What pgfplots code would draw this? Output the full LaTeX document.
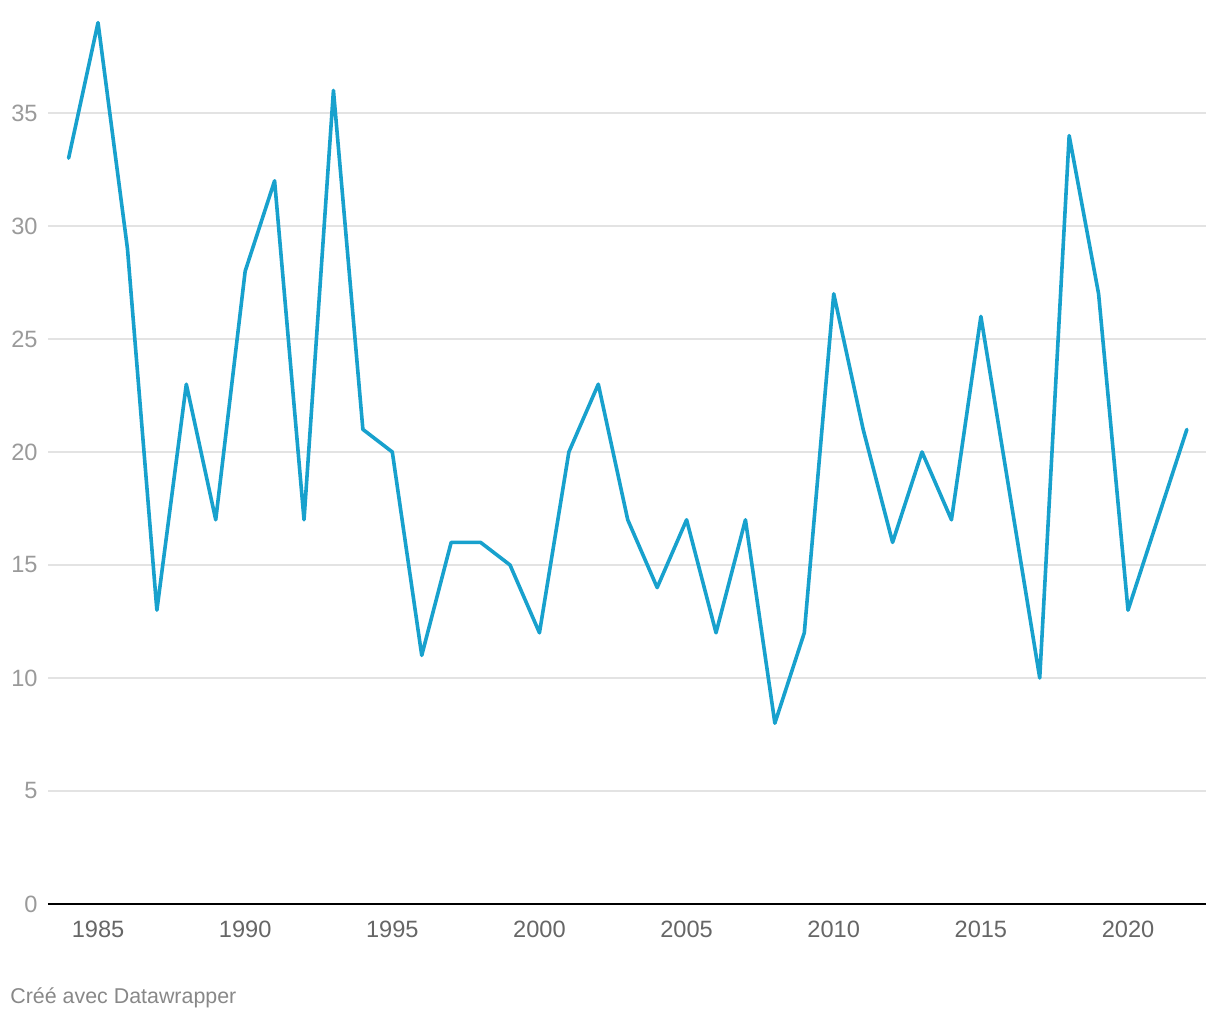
\documentclass[border=0pt]{standalone}
\usepackage{pgfplots}
\pgfplotsset{compat=1.18}
\usepackage{fontspec}
\setmainfont{Liberation Sans}
\definecolor{linecol}{HTML}{18A1CD}
\definecolor{gridcol}{HTML}{E3E3E3}
\definecolor{ylab}{HTML}{9A9A9A}
\definecolor{xlab}{HTML}{666666}
\definecolor{credit}{HTML}{888888}
\begin{document}
\begin{tikzpicture}
\path[use as bounding box] (-24pt,-58pt) rectangle (586pt,452pt);
\begin{axis}[
  at={(0,0)}, anchor=south west,
  scale only axis=true,
  width=579pt, height=452pt,
  xmin=1983.3, xmax=2022.65,
  ymin=0, ymax=40,
  clip=false,
  axis line style={draw=none},
  major tick length=0pt,
  xtick={1985,1990,...,2020},
  ytick={0,5,...,35},
  ymajorgrids=true,
  major grid style={gridcol, line width=0.65pt},
  /pgf/number format/assume math mode=true,
  /pgf/number format/1000 sep={},
  ticklabel style={font=\fontsize{11.8}{14}\selectfont},
  yticklabel style={color=ylab, inner sep=0pt, anchor=east, xshift=-5pt},
  xticklabel style={color=xlab, inner sep=0pt, anchor=north, yshift=-8.3pt},
]
\draw[black, line width=1pt] (rel axis cs:0,0) -- (rel axis cs:1,0);
\addplot[color=linecol, line width=1.8pt, line join=round, line cap=round] coordinates {
(1984,33) (1985,39) (1986,29) (1987,13) (1988,23) (1989,17) (1990,28)
(1991,32) (1992,17) (1993,36) (1994,21) (1995,20) (1996,11) (1997,16)
(1998,16) (1999,15) (2000,12) (2001,20) (2002,23) (2003,17) (2004,14)
(2005,17) (2006,12) (2007,17) (2008,8) (2009,12) (2010,27) (2011,21)
(2012,16) (2013,20) (2014,17) (2015,26) (2016,18) (2017,10) (2018,34)
(2019,27) (2020,13) (2021,17) (2022,21)
};
\end{axis}
\node[anchor=base west, inner sep=0pt, color=credit, font=\fontsize{10.7}{13}\selectfont] at (-19pt,-50pt) {Créé avec Datawrapper};
\end{tikzpicture}
\end{document}
